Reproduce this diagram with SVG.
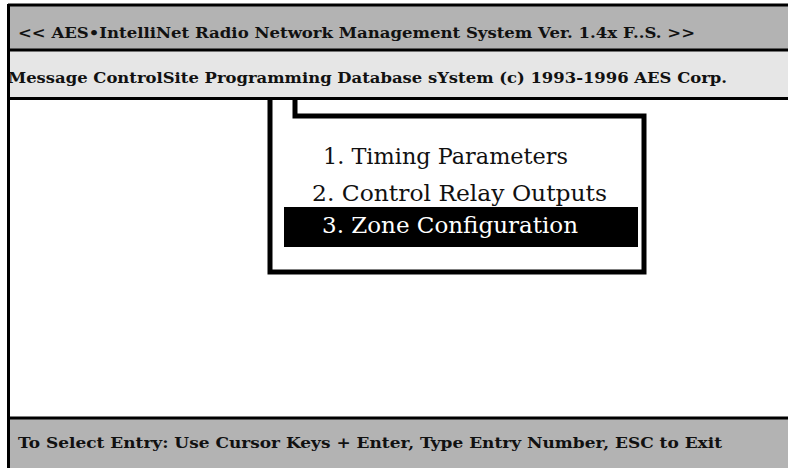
<svg xmlns="http://www.w3.org/2000/svg" width="788" height="468" viewBox="0 0 788 468">
<style>
.hdr{font-family:"DejaVu Serif","Liberation Serif",serif;font-weight:bold;font-size:15px;fill:#111}
.menu{font-family:"DejaVu Serif","Liberation Serif",serif;font-size:22px;fill:#111}
.sel{fill:#fff}
.line{stroke:#000;fill:none}
</style>
<rect width="788" height="468" fill="#fff"/>
<g id="title-bar">
<rect x="9" y="5" width="779" height="45" fill="#b3b3b3"/>
<text class="hdr" x="18" y="38" textLength="677" lengthAdjust="spacingAndGlyphs">&lt;&lt; AES•IntelliNet Radio Network Management System Ver. 1.4x F..S. &gt;&gt;</text>
</g>
<g id="subtitle-bar">
<rect x="9" y="50" width="779" height="48" fill="#e6e6e6"/>
<text class="hdr" x="8" y="83" textLength="719" lengthAdjust="spacingAndGlyphs">Message ControlSite Programming Database sYstem (c) 1993-1996 AES Corp.</text>
</g>
<g id="footer-bar">
<rect x="9" y="418" width="779" height="50" fill="#b3b3b3"/>
<text class="hdr" x="18" y="448" textLength="704" lengthAdjust="spacingAndGlyphs">To Select Entry: Use Cursor Keys + Enter, Type Entry Number, ESC to Exit</text>
</g>
<g id="frame">
<line class="line" x1="8" y1="5" x2="788" y2="5" stroke-width="3"/>
<line class="line" x1="8" y1="50" x2="788" y2="50" stroke-width="3" stroke="#333"/>
<line class="line" x1="8" y1="98.5" x2="788" y2="98.5" stroke-width="3"/>
<line class="line" x1="8" y1="418" x2="788" y2="418" stroke-width="3"/>
<line class="line" x1="8.5" y1="4" x2="8.5" y2="468" stroke-width="3"/>
</g>
<g id="menu">
<path class="line" d="M270 100 V272 H644 V116 H295 V100" stroke-width="5" stroke-linejoin="miter"/>
<text class="menu" x="323" y="164" textLength="245" lengthAdjust="spacingAndGlyphs">1. Timing Parameters</text>
<text class="menu" x="312" y="201" textLength="295" lengthAdjust="spacingAndGlyphs">2. Control Relay Outputs</text>
<rect x="284" y="207" width="354" height="40" fill="#000"/>
<text class="menu sel" x="322" y="233" textLength="256" lengthAdjust="spacingAndGlyphs">3. Zone Configuration</text>
</g>
</svg>
